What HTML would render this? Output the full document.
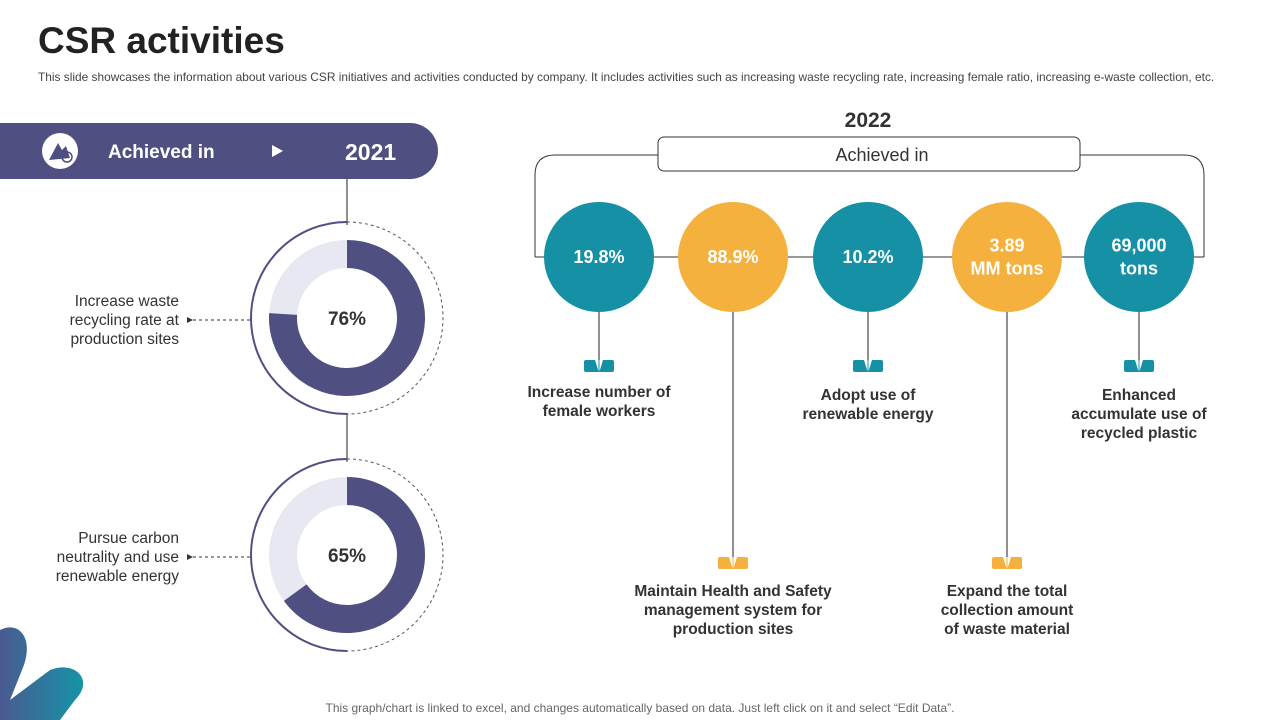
<!DOCTYPE html>
<html><head><meta charset="utf-8">
<style>
body{margin:0;width:1280px;height:720px;background:#fff;font-family:"Liberation Sans",Arial,sans-serif;overflow:hidden;position:relative}
.abs{position:absolute}
</style></head>
<body>
<div class="abs" style="left:38px;top:20px;font-size:37px;font-weight:bold;color:#222">CSR activities</div>
<div class="abs" style="left:38px;top:70px;font-size:11.9px;color:#444;white-space:nowrap">This slide showcases the information about various CSR initiatives and activities conducted by company. It includes activities such as increasing waste recycling rate, increasing female ratio, increasing e-waste collection, etc.</div>
<div class="abs" style="left:0;width:1280px;top:701px;text-align:center;font-size:12px;color:#666">This graph/chart is linked to excel, and changes automatically based on data. Just left click on it and select “Edit Data”.</div>
<svg id="chart" class="abs" style="left:0;top:0" width="1280" height="720">
<defs><linearGradient id="sw" x1="0" x2="1" y1="0" y2="0"><stop offset="0" stop-color="#4a5a90"/><stop offset="1" stop-color="#1594a8"/></linearGradient></defs>
<g>
<path d="M0 123 H410 A28 28 0 0 1 438 151 A28 28 0 0 1 410 179 H0 Z" fill="#4f4f82"/>
<circle cx="60" cy="151" r="18" fill="#fff"/>
<path d="M49 160 L58 143 L62 150 L66 146 L70 158 Z" fill="#4f4f82"/>
<circle cx="67" cy="157" r="5" fill="none" stroke="#4f4f82" stroke-width="1.5"/>
<text x="108" y="158" font-size="19" font-weight="bold" fill="#fff">Achieved in</text>
<path d="M272 145 L283 151 L272 157 Z" fill="#fff"/>
<text x="345" y="160" font-size="23" font-weight="bold" fill="#fff">2021</text>
</g>
<line x1="347" y1="179" x2="347" y2="225" stroke="#222" stroke-width="1"/>
<line x1="347" y1="413" x2="347" y2="462" stroke="#222" stroke-width="1"/>
<g id="donuts"></g>
<path d="M0 630 C20 620 35 640 22 670 L10 700 L50 670 C75 660 95 680 75 700 L60 720 L0 720 Z" fill="url(#sw)"/>
<g>
<text x="868" y="127" font-size="21" font-weight="bold" fill="#333" text-anchor="middle">2022</text>
<path d="M658 155 H555 Q535 155 535 175 V257 M1080 155 H1184 Q1204 155 1204 175 V257" fill="none" stroke="#333" stroke-width="1"/>
<rect x="658" y="137" width="422" height="34" rx="6" fill="#fff" stroke="#333" stroke-width="1"/>
<text x="882" y="161" font-size="18" fill="#333" text-anchor="middle">Achieved in</text>
<line x1="535" y1="257" x2="1204" y2="257" stroke="#333" stroke-width="1"/>
</g>
<g id="circles"></g>
</svg>
<script>
const donutLabels=[["Increase waste","recycling rate at","production sites"],["Pursue carbon","neutrality and use","renewable energy"]];
const donutValues=[76,65];
const circleValues=[["19.8%"],["88.9%"],["10.2%"],["3.89","MM tons"],["69,000","tons"]];
const circleTypes=["teal","orange","teal","orange","teal"];
const circleLabels=[["Increase number of","female workers"],["Maintain Health and Safety","management system for","production sites"],["Adopt use of","renewable energy"],["Expand the total","collection amount","of waste material"],["Enhanced","accumulate use of","recycled plastic"]];
const NS="http://www.w3.org/2000/svg";
function mk(t,a,p){const e=document.createElementNS(NS,t);for(const k in a)e.setAttribute(k,a[k]);p.appendChild(e);return e;}
const dg=document.getElementById('donuts');
donutValues.forEach((v,i)=>{
 const cx=347,cy=318+i*237,R=64,sw=28;
 const g=mk('g',{},dg);
 
 
 mk('path',{d:`M${cx} ${cy-96} A96 96 0 0 0 ${cx} ${cy+96}`,fill:'none',stroke:'#4f4f82','stroke-width':2},g);
 mk('path',{d:`M${cx} ${cy-96} A96 96 0 0 1 ${cx} ${cy+96}`,fill:'none',stroke:'#555','stroke-width':1,'stroke-dasharray':'3 3'},g);
 mk('circle',{cx,cy,r:R,fill:'none',stroke:'#e8e8f2','stroke-width':sw},g);
 const a=v/100*2*Math.PI;const x=cx+R*Math.sin(a),y=cy-R*Math.cos(a);
 const arc=mk('path',{d:`M${cx} ${cy-R} A${R} ${R} 0 ${v>50?1:0} 1 ${x} ${y}`,fill:'none',stroke:'#4f4f82','stroke-width':sw},g);
 
 
 const t=mk('text',{x:cx,y:cy+7,'font-size':19,'font-weight':'bold',fill:'#333','text-anchor':'middle'},g);t.textContent=v+'%';
 mk('line',{x1:193,y1:cy+2,x2:251,y2:cy+2,stroke:'#333','stroke-dasharray':'3 3'},g);
 mk('path',{d:`M187 ${cy-1} L193 ${cy+2} L187 ${cy+5} Z`,fill:'#333'},g);
 const lt=mk('text',{'font-size':15.5,fill:'#333','text-anchor':'end'},g);
 
 
 donutLabels[i].forEach((s,j)=>{const ts=mk('tspan',{x:179,y:cy-12+j*19},lt);ts.textContent=s;});
});
const cg=document.getElementById('circles');
circleValues.forEach((val,i)=>{
 const xs=[599,733,868,1007,1139];const cx=xs[i],cy=257;
 const col=circleTypes[i]=='teal'?'#1590a5':'#f5b13d';
 const low=circleTypes[i]=='orange'&&i!=0;
 const my=low?563:366;
 const g=mk('g',{},cg);
 
 
 mk('line',{x1:cx,y1:cy+55,x2:cx,y2:my,stroke:'#222'},g);
 mk('circle',{cx,cy,r:55,fill:col},g);
 const t=mk('text',{'font-size':18,'font-weight':'bold',fill:'#fff','text-anchor':'middle'},g);
 val.forEach((s,j)=>{const ts=mk('tspan',{x:cx,y:cy+6-(val.length-1)*11.5+j*23},t);ts.textContent=s;});
 mk('rect',{x:cx-15,y:my-6,width:30,height:12,rx:2,fill:col},g);
 mk('path',{d:`M${cx-4} ${my-6} L${cx+4} ${my-6} L${cx} ${my+7} Z`,fill:'#fff'},g);
 mk('line',{x1:cx,y1:my-6,x2:cx,y2:my+6,stroke:col},g);
 const lt=mk('text',{'font-size':15.5,'font-weight':'bold',fill:'#333','text-anchor':'middle'},g);
 
 
 const ly=(low?596:(i==0?397:400));
 circleLabels[i].forEach((s,j)=>{const ts=mk('tspan',{x:cx,y:ly+j*19},lt);ts.textContent=s;});
});
</script>
</body></html>
